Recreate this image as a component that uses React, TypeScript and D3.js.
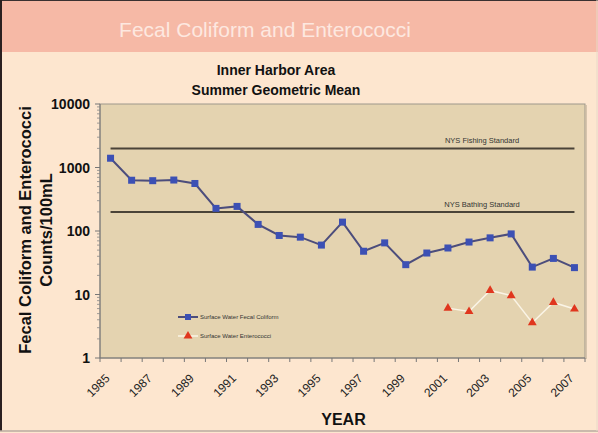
import React from "react";
import * as d3 from "d3";

const years = d3.range(1985, 2008).map(String);
const fecalColiform = [1400, 630, 620, 635, 560, 227, 244, 127, 85, 80, 60, 138, 48, 65, 29.5, 45, 54, 67, 78, 90, 27, 37, 26.5];
const enteroYears = ["2001", "2002", "2003", "2004", "2005", "2006", "2007"];
const enterococci = [6.1, 5.4, 11.6, 9.6, 3.6, 7.5, 5.9];
const yTicks = [1, 10, 100, 1000, 10000];
const xTickLabels = ["1985", "1987", "1989", "1991", "1993", "1995", "1997", "1999", "2001", "2003", "2005", "2007"];
const standards = [
  { label: "NYS Fishing Standard", value: 2000 },
  { label: "NYS Bathing Standard", value: 200 },
];

const W = 598, H = 433;
const PL = 100, PR = 585, PT = 104, PB = 358;
const FONT = "'Liberation Sans', Arial, sans-serif";

export default function App() {
  const x = d3.scaleBand().domain(years).range([PL, PR]).padding(0);
  const cx = (yr: string) => (x(yr) as number) + x.bandwidth() / 2;
  const y = d3.scaleLog().domain([1, 10000]).range([PB, PT]);

  const minor: number[] = [];
  for (let d = 1; d < 10000; d *= 10) for (let k = 2; k <= 9; k++) minor.push(d * k);

  const fLine = d3.line<number>().x((_, i) => cx(years[i])).y((v) => y(v));
  const eLine = d3.line<number>().x((_, i) => cx(enteroYears[i])).y((v) => y(v));
  const tri = d3.symbol().type(d3.symbolTriangle).size(34)() as string;

  const boundaries = years.map((yr) => x(yr) as number).concat([PR]);

  return (
    <svg width={W} height={H} style={{ position: "absolute", left: 0, top: 0 }} fontFamily={FONT}>
      <rect x={0} y={0} width={W} height={H} fill="#fde6cf" />
      <rect x={0} y={0} width={W} height={52} fill="#f6b9a6" />
      <line x1={0} y1={0} x2={W} y2={0} stroke="#3a3030" strokeWidth={2} />
      <line x1={1} y1={0} x2={1} y2={431} stroke="#2a2020" strokeWidth={2} />
      <line x1={0} y1={431} x2={W} y2={431} stroke="#b8aaa0" strokeWidth={1.5} />
      <line x1={597} y1={0} x2={597} y2={431} stroke="#e8d8c8" strokeWidth={1} />
      <text x={265} y={37} textAnchor="middle" fontSize={21} fill="#fde8e0">Fecal Coliform and Enterococci</text>
      <text x={276} y={75} textAnchor="middle" fontSize={14} fontWeight="bold" fill="#111">Inner Harbor Area</text>
      <text x={276} y={95} textAnchor="middle" fontSize={14} fontWeight="bold" fill="#111">Summer Geometric Mean</text>

      {/* plot area */}
      <rect x={PL} y={PT} width={PR - PL} height={PB - PT} fill="#e4d3b0" stroke="#9e978c" strokeWidth={1} />
      <line x1={PR + 1} y1={PT + 1} x2={PR + 1} y2={PB + 1} stroke="#c8b8a0" strokeWidth={1.5} />

      {/* y axis */}
      <line x1={PL} y1={PT} x2={PL} y2={PB} stroke="#777" strokeWidth={1} />
      {minor.map((v) => (
        <line key={"m" + v} x1={PL - 3} x2={PL} y1={y(v)} y2={y(v)} stroke="#888" strokeWidth={0.8} />
      ))}
      {yTicks.map((v) => (
        <g key={"t" + v}>
          <line x1={PL - 5} x2={PL} y1={y(v)} y2={y(v)} stroke="#777" strokeWidth={1} />
          <text x={90} y={y(v)} dy="0.36em" textAnchor="end" fontSize={14} fontWeight="bold" fill="#111">{v}</text>
        </g>
      ))}

      {/* x axis */}
      <line x1={PL} y1={PB} x2={PR} y2={PB} stroke="#777" strokeWidth={1} />
      {boundaries.map((bx, i) => (
        <line key={"xb" + i} x1={bx} x2={bx} y1={PB} y2={PB + 4} stroke="#777" strokeWidth={1} />
      ))}
      {xTickLabels.map((yr) => (
        <text key={"xl" + yr} transform={`translate(${cx(yr) - 6},${PB + 15}) rotate(-45)`} dy="0.7em" textAnchor="end" fontSize={12} fill="#222">{yr}</text>
      ))}
      <text x={(PL + PR) / 2 + 1} y={425} textAnchor="middle" fontSize={16} fontWeight="bold" fill="#111">YEAR</text>

      {/* y label */}
      <g transform={`translate(31,230) rotate(-90)`}>
        <text textAnchor="middle" fontSize={16.5} fontWeight="bold" fill="#111">Fecal Coliform and Enterococci</text>
        <text y={21} textAnchor="middle" fontSize={16.5} fontWeight="bold" fill="#111">Counts/100mL</text>
      </g>

      {/* standards */}
      {standards.map((s) => (
        <g key={s.label}>
          <line x1={cx(years[0])} x2={cx(years[years.length - 1])} y1={y(s.value)} y2={y(s.value)} stroke="#4a4338" strokeWidth={2} />
          <text x={482} y={y(s.value) - 5} textAnchor="middle" fontSize={7.5} fill="#333">{s.label}</text>
        </g>
      ))}

      {/* enterococci */}
      <path d={eLine(enterococci) as string} fill="none" stroke="#faf4e6" strokeWidth={1.5} />
      {enterococci.map((v, i) => (
        <path key={"e" + i} d={tri} transform={`translate(${cx(enteroYears[i])},${y(v)})`} fill="#e0361e" />
      ))}

      {/* fecal coliform */}
      <path d={fLine(fecalColiform) as string} fill="none" stroke="#4c4d7c" strokeWidth={2} />
      {fecalColiform.map((v, i) => (
        <rect key={"f" + i} x={cx(years[i]) - 3.5} y={y(v) - 3.5} width={7} height={7} fill="#3c50b4" />
      ))}

      {/* legend */}
      <line x1={178} x2={198} y1={317} y2={317} stroke="#4c4d7c" strokeWidth={2} />
      <rect x={185} y={314} width={6} height={6} fill="#3c50b4" />
      <text x={200} y={319} fontSize={6} fill="#333">Surface Water Fecal Coliform</text>
      <line x1={178} x2={198} y1={336} y2={336} stroke="#faf4e6" strokeWidth={1.5} />
      <path d={tri} transform="translate(188,336)" fill="#e0361e" />
      <text x={200} y={338} fontSize={6} fill="#333">Surface Water Enterococci</text>
    </svg>
  );
}
